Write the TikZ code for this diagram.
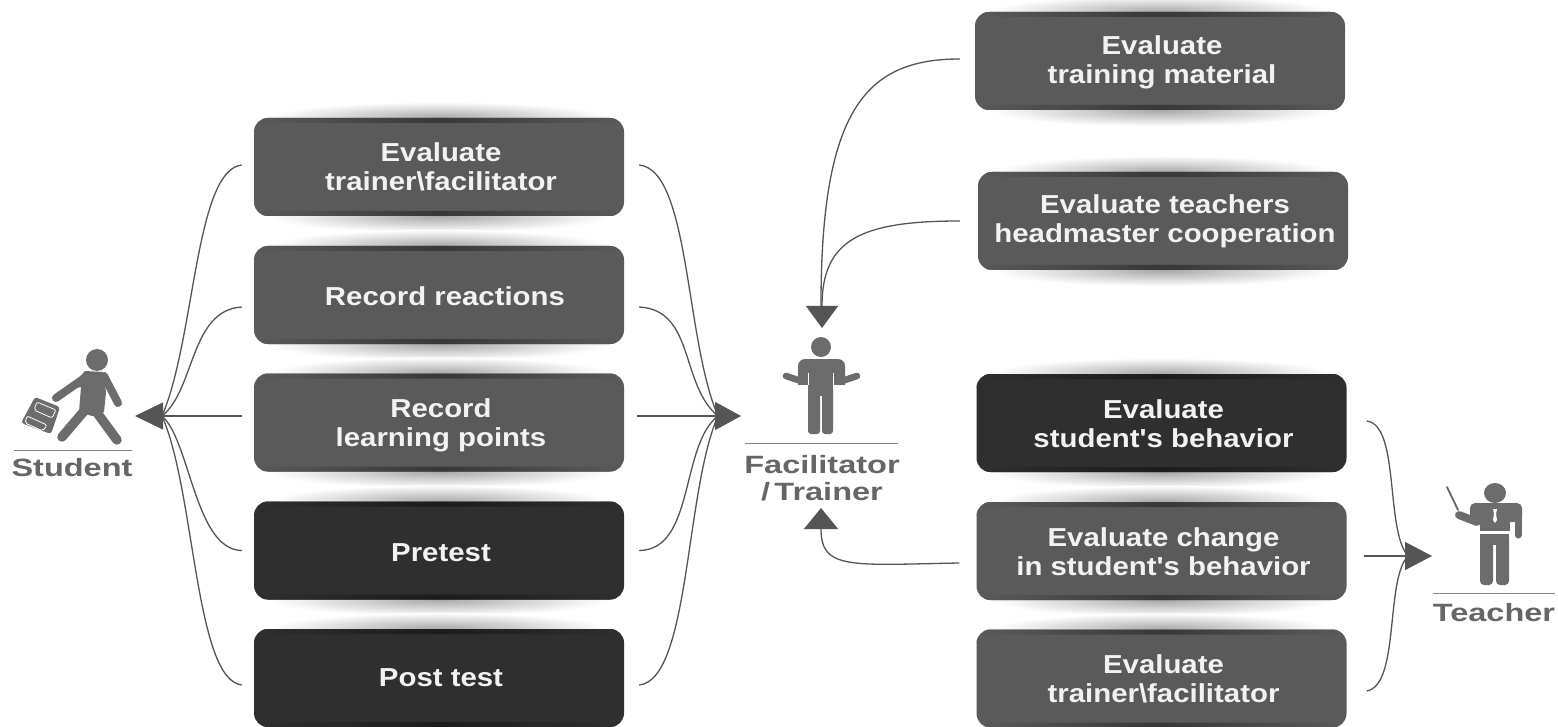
\documentclass[tikz,border=0pt]{standalone}
\usepackage{fontspec}
\setmainfont{Liberation Sans}
\newfontfamily\cardf{Liberation Sans}[FakeStretch=1.13]
\newfontfamily\captf{Liberation Sans}[FakeStretch=1.3]
\usetikzlibrary{arrows.meta}
\pgfdeclarelayer{bg}
\pgfsetlayers{bg,main}
\definecolor{boxg}{HTML}{5A5A5A}
\definecolor{boxd}{HTML}{2F2F2F}
\definecolor{bandg}{HTML}{383838}
\definecolor{bandd}{HTML}{1C1C1C}
\definecolor{fig}{HTML}{6C6C6C}
\definecolor{lin}{HTML}{555555}
\definecolor{cap}{HTML}{666666}
\newcommand{\nudge}[1]{\rule{0pt}{#1pt}}
\newcommand{\sh}{\hspace*{4pt}}
\tikzset{
  x=1pt,y=-1pt,
  card/.style n args={2}{rounded corners=14pt,fill=#1,text=white!95!black,minimum width=370pt,minimum height=98pt,
    inner sep=0pt,align=center,font=\cardf\fontsize{26}{29}\selectfont\bfseries,
    path picture={
      \shade[left color=#1,right color=#1,middle color=#2]
        (path picture bounding box.north west) rectangle ([yshift=-5pt]path picture bounding box.north east);
      \shade[left color=#1,right color=#1,middle color=#2]
        (path picture bounding box.south west) rectangle ([yshift=5pt]path picture bounding box.south east);
    }},
  gcard/.style={card={boxg}{bandg}},
  dcard/.style={card={boxd}{bandd}},
  conn/.style={draw=lin,line width=1.3pt},
  capt/.style={text=cap,align=center,inner sep=0pt,font=\captf\fontsize{25}{27}\selectfont\bfseries},
  glow/.style={inner color=black!34,outer color=white,draw=none},
  limb/.style={draw=fig,line cap=round,line join=round},
  rulel/.style={draw=cap!80,line width=0.9pt},
}
\begin{document}
\begin{tikzpicture}
\useasboundingbox (0,0) rectangle (1558,727);
\begin{pgfonlayer}{bg}
\fill[white] (0,0) rectangle (1558,727);
\end{pgfonlayer}
% left cards
\node[gcard] (a1) at (439,167) {\sh Evaluate\\\sh trainer\textbackslash facilitator};
\node[gcard] (a2) at (439,295) {\nudge{21}\hspace{12pt}Record reactions};
\node[gcard] (a3) at (439,422.5) {\nudge{24}\sh Record\\\sh learning points};
\node[dcard] (a4) at (439,550.5) {\nudge{22}\sh Pretest};
\node[dcard] (a5) at (439,678) {\sh Post test};
% right cards
\node[gcard] (c1) at (1160,61) {\nudge{22}\sh Evaluate\\\sh training material};
\node[gcard] (c2) at (1163,221) {\sh Evaluate teachers\\\sh headmaster cooperation};
\node[dcard] (c3) at (1161.5,423) {\nudge{20}\sh Evaluate\\\sh student's behavior};
\node[gcard] (c4) at (1161.5,551) {\nudge{21}\sh Evaluate change\\\sh in student's behavior};
\node[gcard] (c5) at (1161.5,678.5) {\nudge{20}\sh Evaluate\\\sh trainer\textbackslash facilitator};
\begin{pgfonlayer}{bg}
\foreach \n in {a1,a2,a3,a4,a5,c1,c2,c3,c4,c5}{
  \shade[glow] (\n.north) ellipse (170 and 16);
  \shade[glow] (\n.south) ellipse (170 and 16);
}
\end{pgfonlayer}
% captions
\node[capt] (stu) at (72,468) {Student};
\node[capt] (fac) at (822,478) {Facilitator\\/\,Trainer};
\node[capt] (tea) at (1494,613) {Teacher};
\draw[rulel] (14,450) -- (132,450);
\draw[rulel] (745,443) -- (898,443);
\draw[rulel] (1433,593) -- (1555,593);
% student figure
\fill[fig] (97,360) circle (11);
\fill[fig] (85,371) -- (103,372) -- (106,392) -- (104,412) -- (92,416) -- (79,412) -- (81,387) -- (68,390) -- cycle;
\draw[limb,line width=8pt] (86,377) -- (56,398);
\draw[limb,line width=8pt] (104,376) -- (118,403);
\draw[limb,line width=9.5pt] (85,410) -- (62,437);
\draw[limb,line width=9.5pt] (95,410) -- (117,440);
\fill[fig,rounded corners=3pt] (21,423) -- (35,397) -- (60,407) -- (51,434) -- cycle;
\draw[white,line width=0.8pt,rounded corners=2pt] (37,402) -- (56,410) -- (52,418) -- (34,410) -- cycle;
\draw[white,line width=0.8pt,rounded corners=2pt] (27,416) -- (47,425) -- (43,431) -- (25,423) -- cycle;
% facilitator figure
\fill[fig] (821,347) circle (10);
\fill[fig,rounded corners=7pt] (798,392) -- (798,359) -- (845,359) -- (845,392) -- cycle;
\fill[white] (797,385) rectangle (808,394);
\fill[white] (833,385) rectangle (846,394);
\fill[fig,rounded corners=3pt] (808,385) rectangle (820,434);
\fill[fig,rounded corners=3pt] (822,385) rectangle (833,434);
\fill[fig] (808,380) rectangle (833,396);
\draw[white,line width=0.8pt] (808,373) -- (808,385);
\draw[white,line width=0.8pt] (833,373) -- (833,385);
\draw[limb,line width=6.5pt] (786,376) -- (804,382);
\draw[limb,line width=6.5pt] (857,376) -- (839,382);
% teacher figure
\fill[fig] (1495,493) ellipse (11 and 10);
\fill[fig,rounded corners=5pt] (1470,503) rectangle (1522,522);
\fill[fig] (1480,510) rectangle (1510,531);
\draw[limb,line width=7pt] (1518,510) -- (1518,535);
\draw[limb,line width=8pt] (1476,510) -- (1477,522) -- (1459,515);
\draw[limb,line width=1.8pt,draw=cap] (1447,487) -- (1458,510);
\fill[fig,rounded corners=4pt] (1480,534) rectangle (1493,585);
\fill[fig,rounded corners=4pt] (1496,534) rectangle (1509,585);
\fill[fig] (1480,534) rectangle (1509,545);
\fill[white] (1493,509) -- (1497,509) -- (1496,514) -- (1497,520) -- (1495,523) -- (1493,520) -- (1494,514) -- cycle;
% connector ends
\coordinate (sb) at (162,416);
\coordinate (st) at (135,416);
\coordinate (fb) at (718,416);
\coordinate (ft) at (741,416);
\coordinate (ut) at (822,328);
\coordinate (ub) at (821,312);
\coordinate (lt) at (821,508);
\coordinate (tb) at (1408,556);
\coordinate (tt) at (1432,556);
% student fan
\draw[conn] ([xshift=-12pt,yshift=2pt]a1.west) .. controls (195,170) and (195,340) .. (sb);
\draw[conn] ([xshift=-12pt,yshift=-12pt]a2.west) .. controls (190,310) and (195,390) .. (sb);
\draw[conn,-{Triangle[length=28pt,width=27pt,fill=lin]}] ([xshift=-12pt,yshift=6.5pt]a3.west) -- (st);
\draw[conn] ([xshift=-12pt]a4.west) .. controls (195,550) and (190,440) .. (sb);
\draw[conn] ([xshift=-12pt,yshift=-7pt]a5.west) .. controls (195,680) and (195,490) .. (sb);
% facilitator fan
\draw[conn] ([xshift=15pt,yshift=2pt]a1.east) .. controls (690,170) and (685,340) .. (fb);
\draw[conn] ([xshift=15pt,yshift=-12pt]a2.east) .. controls (695,310) and (680,385) .. (fb);
\draw[conn,-{Triangle[length=26pt,width=28pt,fill=lin]}] ([xshift=13pt,yshift=6.5pt]a3.east) -- (ft);
\draw[conn] ([xshift=15pt]a4.east) .. controls (695,550) and (680,445) .. (fb);
\draw[conn] ([xshift=15pt,yshift=-7pt]a5.east) .. controls (690,680) and (685,490) .. (fb);
% facilitator inputs
\draw[conn] ([xshift=-15pt,yshift=2pt]c1.west) .. controls (865,59) and (820,110) .. (ub);
\draw[conn,-{Triangle[length=22pt,width=32pt,fill=lin]}] ([xshift=-18pt]c2.west) .. controls (860,221) and (822,240) .. (ut);
\draw[conn,-{Triangle[length=21pt,width=34pt,fill=lin]}] ([xshift=-17pt,yshift=-12pt]c4.west) .. controls (850,565) and (821,570) .. (lt);
% teacher fan
\draw[conn] ([xshift=20pt,yshift=2pt]c3.east) .. controls (1400,425) and (1385,530) .. (tb);
\draw[conn,-{Triangle[length=27pt,width=28pt,fill=lin]}] ([xshift=17pt,yshift=-5pt]c4.east) -- (tt);
\draw[conn] ([xshift=20pt,yshift=-12.5pt]c5.east) .. controls (1400,685) and (1385,580) .. (tb);
\end{tikzpicture}
\end{document}
